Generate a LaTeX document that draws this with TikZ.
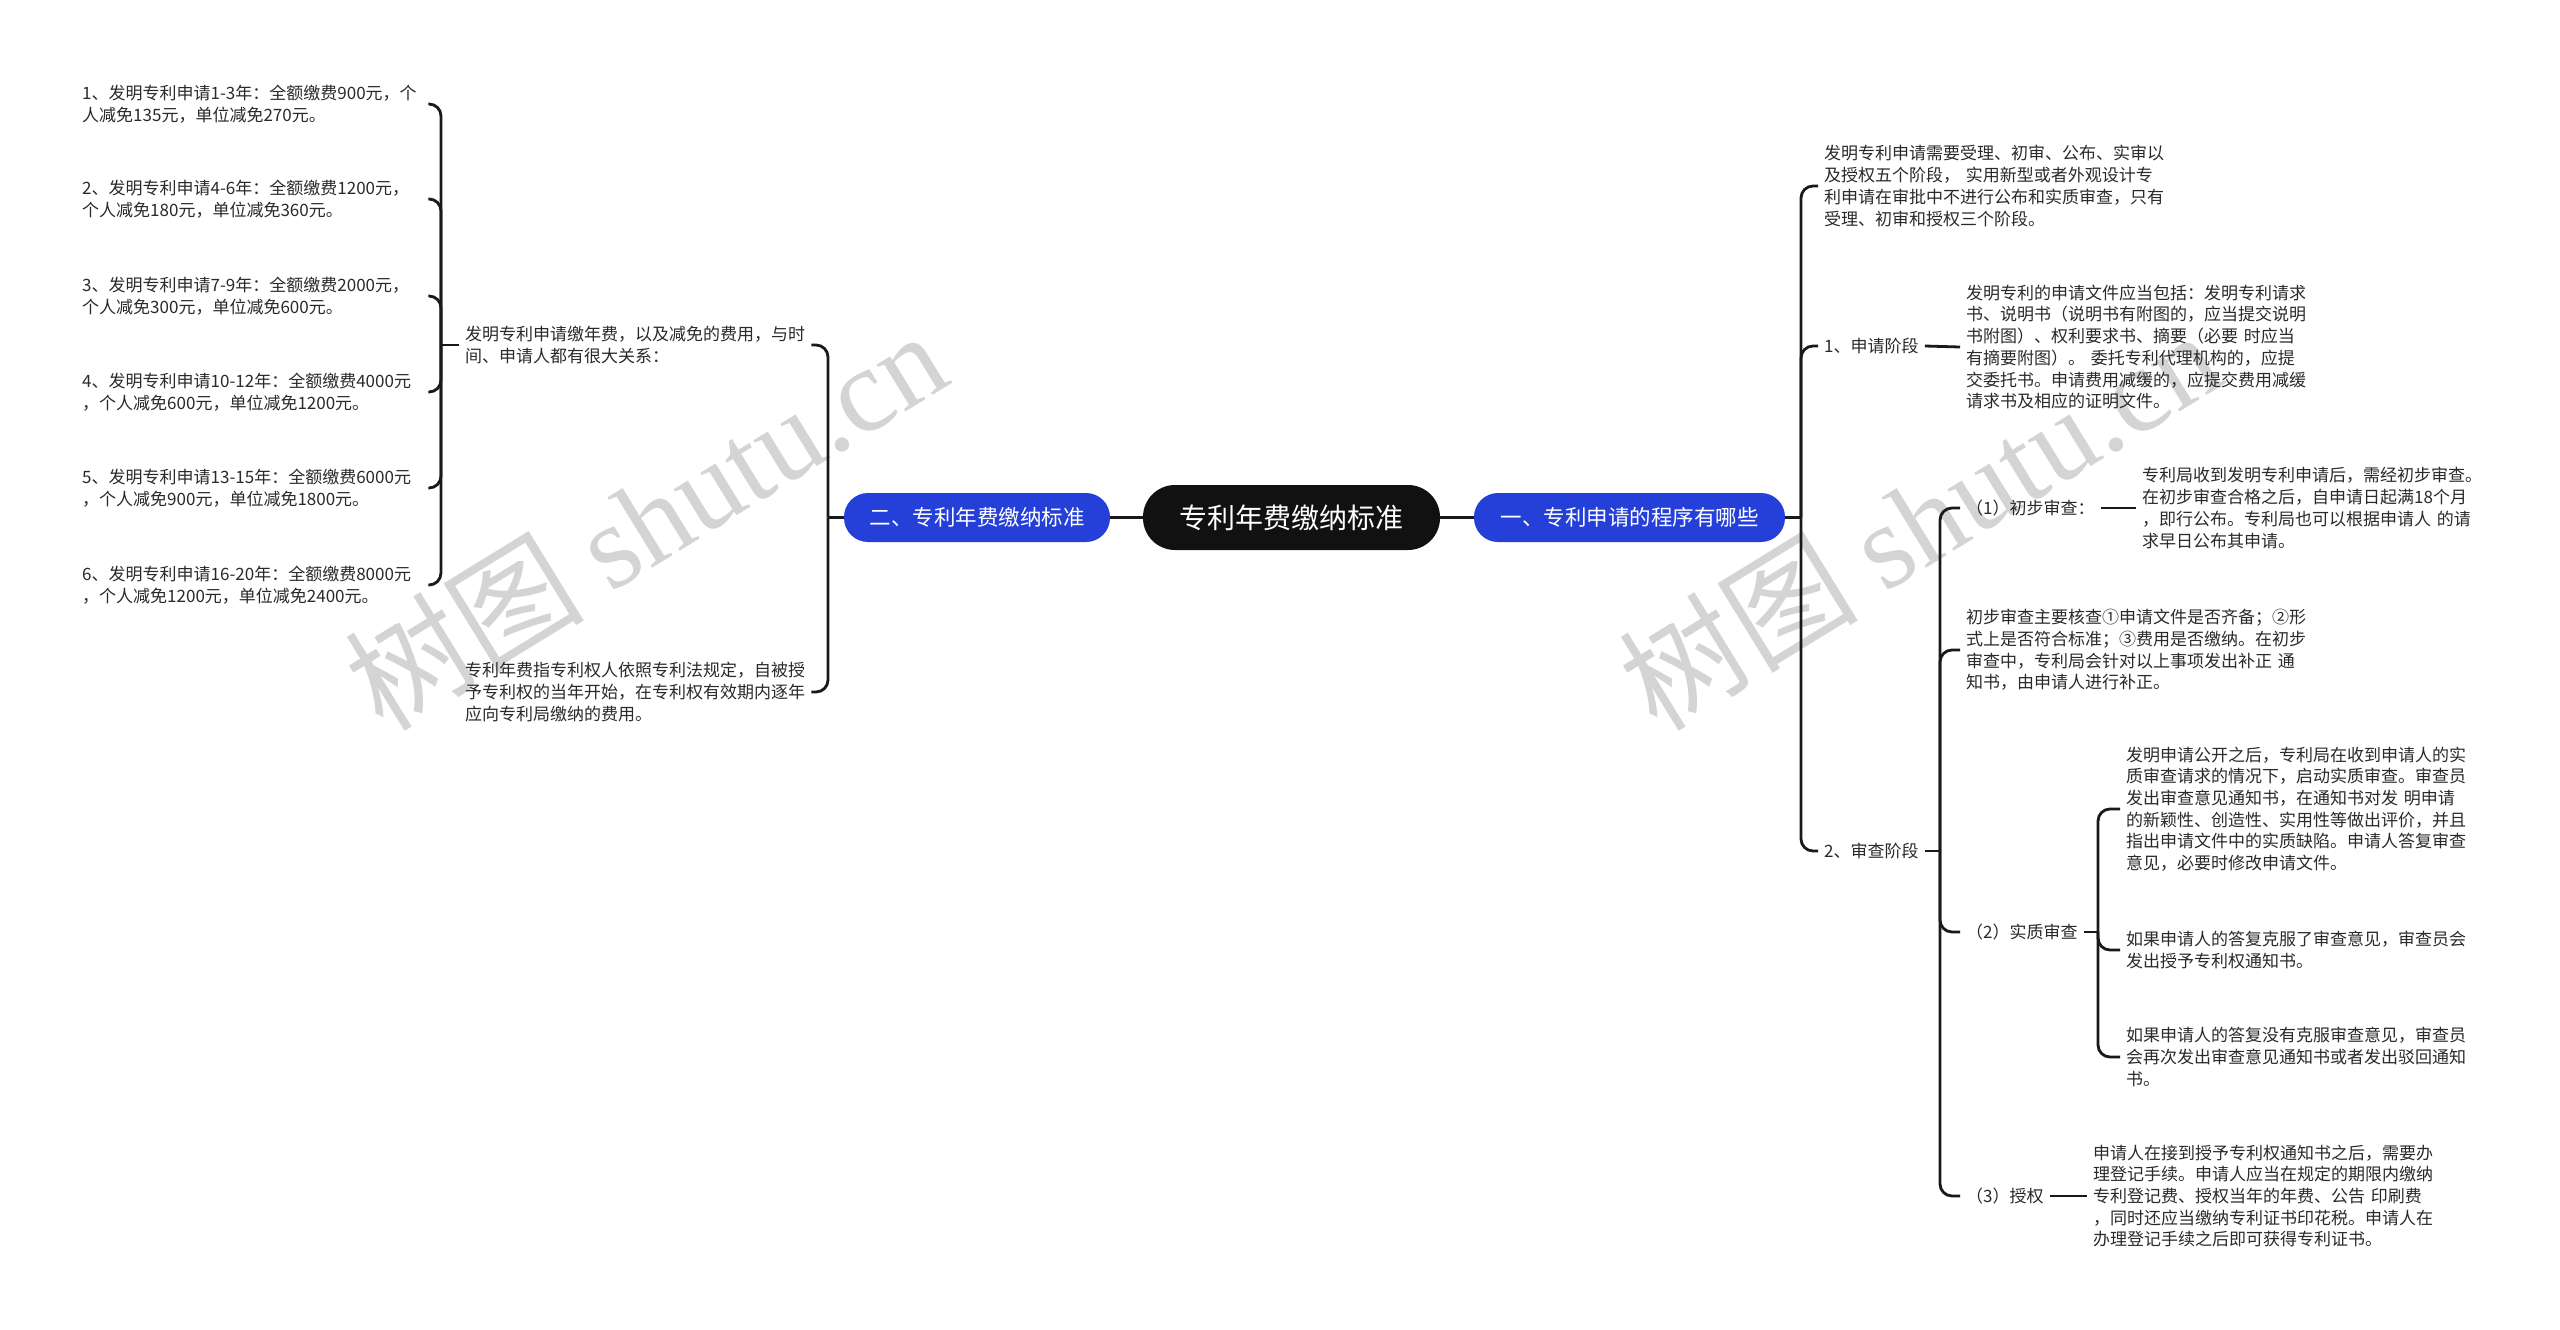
\documentclass[tikz,border=0pt]{standalone}
\usepackage{fontspec}
\setmainfont{Noto Sans CJK SC}
\newfontfamily\wmfont{Liberation Serif}
\definecolor{nodeblue}{HTML}{2540D9}
\definecolor{rootblack}{HTML}{111111}
\definecolor{txt}{HTML}{2A2A2A}
\definecolor{wmgray}{HTML}{D4D4D4}
\tikzset{
  rootbox/.style={fill=rootblack, text=white, rounded corners=32pt, minimum width=297pt, minimum height=65pt, font=\fontsize{28}{32}\selectfont, inner sep=0pt},
  bluebox/.style={fill=nodeblue, text=white, rounded corners=24pt, minimum height=49pt, font=\fontsize{21.5}{26}\selectfont, inner sep=0pt},
  para/.style={anchor=west, text=txt, font=\fontsize{17}{21.7}\selectfont, align=left, text width=380pt, inner xsep=6pt, inner ysep=2pt},
  leftpara/.style={para, text width=340pt},
  stage/.style={anchor=west, text=txt, font=\fontsize{17}{21.7}\selectfont, inner xsep=6pt, inner ysep=2pt},
  conn/.style={draw=black!90, line width=2.8pt},
  bcurve/.style={conn, rounded corners=12pt},
  wm/.style={text=wmgray, font=\fontsize{120}{120}\selectfont, rotate=31.6}
}
\begin{document}
\begin{tikzpicture}[x=1pt,y=-1pt]
\useasboundingbox (0,0) rectangle (2560,1330);
\fill[white] (0,0) rectangle (2560,1330);
% watermarks
\node[wm] (wm1) at (645,519) {树图 {\wmfont shutu.cn}};
\node[wm] (wm2) at (1919,519) {树图 {\wmfont shutu.cn}};
% central
\node[rootbox] (root) at (1291.5,517.5) {专利年费缴纳标准};
\node[bluebox, minimum width=311pt] (R) at (1629.5,517.5) {一、专利申请的程序有哪些};
\node[bluebox, minimum width=266pt] (L) at (977,517.5) {二、专利年费缴纳标准};
\draw[conn] (root.east) -- (R.west);
\draw[conn] (root.west) -- (L.east);
% right branch
\coordinate (rb) at (1801,517.5);
\draw[conn] (R.east) -- (rb);
\node[para] (T0) at (1818,186) {发明专利申请需要受理、初审、公布、实审以\\及授权五个阶段， 实用新型或者外观设计专\\利申请在审批中不进行公布和实质审查，只有\\受理、初审和授权三个阶段。};
\node[stage] (A1) at (1818,346) {1、申请阶段};
\node[para] (T1) at (1960,347) {发明专利的申请文件应当包括：发明专利请求\\书、说明书（说明书有附图的，应当提交说明\\书附图）、权利要求书、摘要（必要 时应当\\有摘要附图）。 委托专利代理机构的，应提\\交委托书。申请费用减缓的，应提交费用减缓\\请求书及相应的证明文件。};
\node[stage] (A2) at (1818,851) {2、审查阶段};
\draw[bcurve] (rb) |- (T0.west);
\draw[bcurve] (rb) |- (A1.west);
\draw[bcurve] (rb) |- (A2.west);
\draw[conn] (A1.east) -- (T1.west);
\coordinate (b2) at (1940,851);
\draw[conn] (A2.east) -- (b2);
\node[stage] (B1) at (1960,508) {（1）初步审查：};
\node[para] (T2) at (2136,508) {专利局收到发明专利申请后，需经初步审查。\\在初步审查合格之后，自申请日起满18个月\\，即行公布。专利局也可以根据申请人 的请\\求早日公布其申请。};
\draw[conn] (B1.east) -- (T2.west);
\node[para] (T3) at (1960,650) {初步审查主要核查①申请文件是否齐备；②形\\式上是否符合标准；③费用是否缴纳。在初步\\审查中，专利局会针对以上事项发出补正 通\\知书，由申请人进行补正。};
\node[stage] (B2) at (1960,932) {（2）实质审查};
\node[stage] (B3) at (1960,1196) {（3）授权};
\draw[bcurve] (b2) |- (B1.west);
\draw[bcurve] (b2) |- (T3.west);
\draw[bcurve] (b2) |- (B2.west);
\draw[bcurve] (b2) |- (B3.west);
\coordinate (b3) at (2098,932);
\draw[conn] (B2.east) -- (b3);
\node[para] (T4) at (2120,809) {发明申请公开之后，专利局在收到申请人的实\\质审查请求的情况下，启动实质审查。审查员\\发出审查意见通知书，在通知书对发 明申请\\的新颖性、创造性、实用性等做出评价，并且\\指出申请文件中的实质缺陷。申请人答复审查\\意见，必要时修改申请文件。};
\node[para] (T5) at (2120,950) {如果申请人的答复克服了审查意见，审查员会\\发出授予专利权通知书。};
\node[para] (T6) at (2120,1057) {如果申请人的答复没有克服审查意见，审查员\\会再次发出审查意见通知书或者发出驳回通知\\书。};
\draw[bcurve] (b3) |- (T4.west);
\draw[bcurve] (b3) |- (T5.west);
\draw[bcurve] (b3) |- (T6.west);
\node[para] (T7) at (2087,1196) {申请人在接到授予专利权通知书之后，需要办\\理登记手续。申请人应当在规定的期限内缴纳\\专利登记费、授权当年的年费、公告 印刷费\\，同时还应当缴纳专利证书印花税。申请人在\\办理登记手续之后即可获得专利证书。};
\draw[conn] (B3.east) -- (T7.west);
% left branch
\coordinate (lb) at (828,517.5);
\draw[conn] (L.west) -- (lb);
\node[leftpara] (L1) at (459,345) {发明专利申请缴年费，以及减免的费用，与时\\间、申请人都有很大关系：};
\node[leftpara] (L2) at (459,692) {专利年费指专利权人依照专利法规定，自被授\\予专利权的当年开始，在专利权有效期内逐年\\应向专利局缴纳的费用。};
\draw[bcurve] (lb) |- (L1.east);
\draw[bcurve] (lb) |- (L2.east);
\coordinate (lb2) at (441,345);
\draw[conn] (L1.west) -- (lb2);
\node[leftpara] (I1) at (76,104) {1、发明专利申请1-3年：全额缴费900元，个\\人减免135元，单位减免270元。};
\node[leftpara] (I2) at (76,199) {2、发明专利申请4-6年：全额缴费1200元，\\个人减免180元，单位减免360元。};
\node[leftpara] (I3) at (76,296) {3、发明专利申请7-9年：全额缴费2000元，\\个人减免300元，单位减免600元。};
\node[leftpara] (I4) at (76,392) {4、发明专利申请10-12年：全额缴费4000元\\，个人减免600元，单位减免1200元。};
\node[leftpara] (I5) at (76,488) {5、发明专利申请13-15年：全额缴费6000元\\，个人减免900元，单位减免1800元。};
\node[leftpara] (I6) at (76,585) {6、发明专利申请16-20年：全额缴费8000元\\，个人减免1200元，单位减免2400元。};
\foreach \i in {I1,I2,I3,I4,I5,I6} {\draw[bcurve] (lb2) |- (\i.east);}
\end{tikzpicture}
\end{document}
